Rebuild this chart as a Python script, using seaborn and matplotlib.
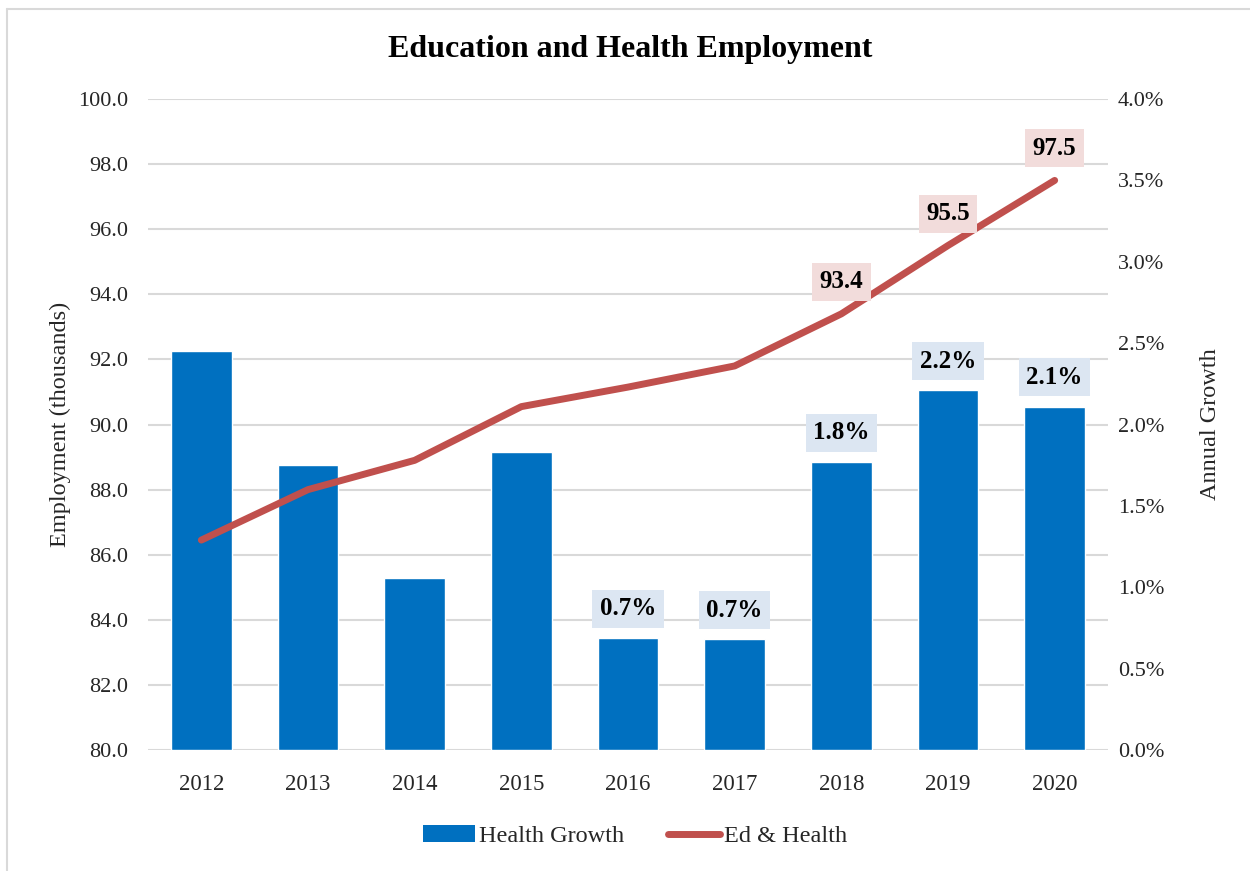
import numpy as np
import pandas as pd
import matplotlib
matplotlib.use("Agg")
import matplotlib.pyplot as plt
from matplotlib.ticker import MultipleLocator, FixedLocator, FuncFormatter
from matplotlib.lines import Line2D
from matplotlib.patches import Patch
import seaborn as sns

# Data
years = ["2012", "2013", "2014", "2015", "2016", "2017", "2018", "2019", "2020"]
health_growth = [2.45, 1.75, 1.06, 1.83, 0.69, 0.68, 1.77, 2.21, 2.11]   # percent
ed_health = [86.45, 88.0, 88.9, 90.55, 91.15, 91.8, 93.4, 95.5, 97.5]    # thousands
growth_labelled = ["2016", "2017", "2018", "2019", "2020"]
emp_labelled = ["2018", "2019", "2020"]

BAR_COLOR = "#0070C0"
LINE_COLOR = "#C0504D"
FONT = ["Liberation Serif", "DejaVu Serif"]

sns.set_theme(style="white")
plt.rcParams["font.family"] = FONT
plt.rcParams["text.color"] = "#262626"

df = pd.DataFrame({"year": years, "growth": health_growth, "emp": ed_health,
                   "pos": np.arange(len(years))})

fig = plt.figure(figsize=(12.5, 8.71), dpi=100)
ax_line = fig.add_axes([0.1184, 0.1389, 0.7680, 0.7474])
ax_bar = ax_line.twinx()

# Bars: annual growth on the right axis
sns.barplot(data=df, x="year", y="growth", ax=ax_bar, color=BAR_COLOR,
            saturation=1, width=0.57, errorbar=None, zorder=2)
ax_bar.set_ylim(0, 4)
ax_bar.yaxis.set_major_locator(MultipleLocator(0.5))
ax_bar.yaxis.set_major_formatter(FuncFormatter(lambda v, p: f"{v:.1f}%"))
# horizontal guides follow the left axis (every 2.0 = 0.4%)
ax_bar.yaxis.set_minor_locator(FixedLocator(np.linspace(0, 4, 11)))
ax_bar.yaxis.remove_overlapping_locs = False
ax_bar.grid(which="minor", axis="y", color="#D9D9D9", linewidth=1.5, zorder=0)
ax_bar.grid(which="major", visible=False)
ax_bar.set_axisbelow(True)
ax_bar.set_ylabel("Annual Growth", fontsize=17.5, labelpad=26, color="#262626")
ax_bar.set_xlabel("")
ax_bar.tick_params(axis="y", which="both", length=0, labelsize=16, pad=7,
                   labelcolor="#262626")

# Line: employment on the left axis
sns.lineplot(data=df, x="pos", y="emp", ax=ax_line, color=LINE_COLOR,
             linewidth=5, solid_capstyle="round", zorder=3)
ax_line.set_ylim(80, 100)
ax_line.yaxis.set_major_locator(MultipleLocator(2))
ax_line.yaxis.set_major_formatter(FuncFormatter(lambda v, p: f"{v:.1f}"))
ax_line.set_xlim(-0.5, len(years) - 0.5)
ax_line.set_xticks(np.arange(len(years)))
ax_line.set_xticklabels(years)
ax_line.set_ylabel("Employment (thousands)", fontsize=17.5, labelpad=5, color="#262626")
ax_line.set_xlabel("")
ax_line.tick_params(axis="y", length=0, labelsize=16, pad=14, labelcolor="#262626")
ax_line.tick_params(axis="x", length=0, labelsize=16.5, pad=17, labelcolor="#262626")
ax_line.set_zorder(ax_bar.get_zorder() + 1)
ax_line.patch.set_visible(False)

for a in (ax_line, ax_bar):
    for s in a.spines.values():
        s.set_visible(False)

# Value labels
for i, (y, g) in enumerate(zip(years, health_growth)):
    if y in growth_labelled:
        ax_bar.annotate(f"{g:.1f}%", (i, g), xytext=(0, 21), textcoords="offset points",
                        ha="center", va="center", fontsize=18, fontweight="bold",
                        color="black",
                        bbox=dict(boxstyle="square,pad=0.3", fc="#DCE6F2", ec="none"))
for i, (y, e) in enumerate(zip(years, ed_health)):
    if y in emp_labelled:
        ax_line.annotate(f"{e:.1f}", (i, e), xytext=(0, 23), textcoords="offset points",
                         ha="center", va="center", fontsize=18, fontweight="bold",
                         color="black",
                         bbox=dict(boxstyle="square,pad=0.3", fc="#F2DCDB", ec="none"))

fig.text(0.504, 0.943, "Education and Health Employment", ha="center", va="center",
         fontsize=23, fontweight="bold", color="black")

handles = [Patch(facecolor=BAR_COLOR, edgecolor="none", label="Health Growth"),
           Line2D([0], [0], color=LINE_COLOR, lw=5, solid_capstyle="round",
                  label="Ed & Health")]
fig.legend(handles=handles, loc="center", bbox_to_anchor=(0.508, 0.040), ncol=2,
           frameon=False, fontsize=17.5, handlelength=2.15, handletextpad=0.15,
           columnspacing=1.8, labelcolor="#262626")

# outer frame of the chart area
fig.add_artist(Line2D([7 / 1250, 7 / 1250], [0, 1 - 9 / 871], transform=fig.transFigure,
                      color="#D9D9D9", lw=1.5))
fig.add_artist(Line2D([7 / 1250, 1], [1 - 9 / 871, 1 - 9 / 871], transform=fig.transFigure,
                      color="#D9D9D9", lw=1.5))

fig.savefig("out.png", dpi=100, facecolor="white")
